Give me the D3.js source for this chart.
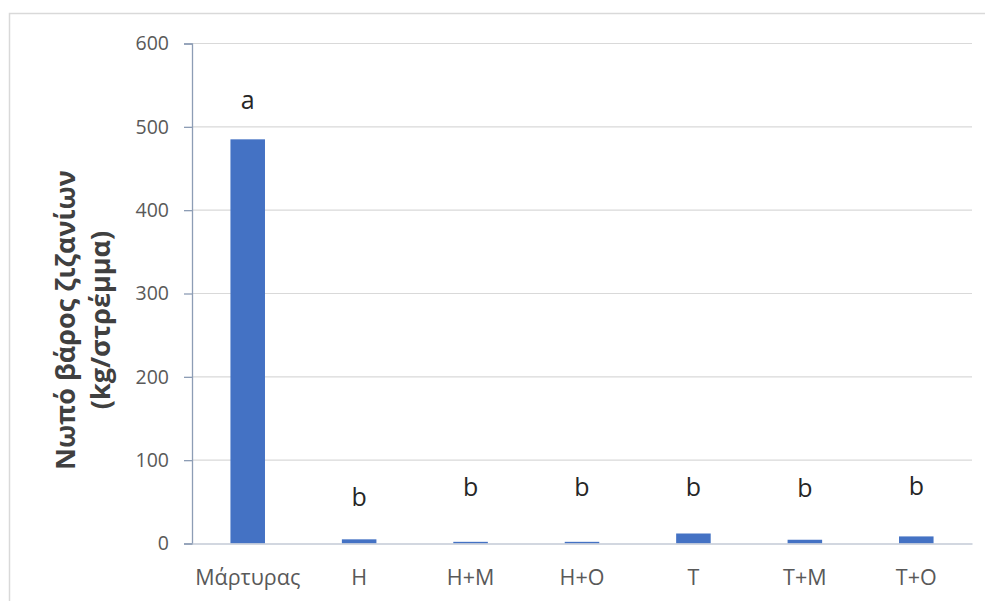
<!DOCTYPE html>
<html>
<head>
<meta charset="utf-8">
<script src="https://cdn.jsdelivr.net/npm/d3@7"></script>
<style>
  html, body { margin: 0; padding: 0; background: #fff; }
  svg { display: block; }
</style>
</head>
<body>
<svg id="chart" width="985" height="601"></svg>
<script>
// Fresh weed weight per treatment (kg/stremma)
const categories = ["Μάρτυρας", "H", "H+M", "H+O", "T", "T+M", "T+O"];
const values = [485, 5, 2, 2, 12, 4.5, 8.5];
// Significance group letters and the level (in kg/stremma) they sit at
const letters = ["a", "b", "b", "b", "b", "b", "b"];
const letterLevel = [532, 55, 67, 67, 67, 66, 69];
const yTicks = [0, 100, 200, 300, 400, 500, 600];
const yTitle = ["Νωπό βάρος ζιζανίων", "(kg/στρέμμα)"];

const svg = d3.select("#chart");
const font = "'Open Sans', 'Liberation Sans', sans-serif";

// Outer chart frame
svg.append("rect")
  .attr("x", 9.5).attr("y", 13.5)
  .attr("width", 990).attr("height", 600)
  .attr("fill", "#fff").attr("stroke", "#d9d9d9").attr("stroke-width", 1.5);

const plot = { left: 192, right: 972, top: 43.5, bottom: 543.5 };

const x = d3.scaleBand()
  .domain(categories)
  .range([plot.left, plot.right])
  .paddingInner(0.69)
  .paddingOuter(0.345);

const y = d3.scaleLinear()
  .domain([0, 600])
  .range([plot.bottom, plot.top]);

// Horizontal gridlines
svg.append("g")
  .selectAll("line")
  .data(yTicks.filter(d => d > 0))
  .join("line")
  .attr("x1", plot.left).attr("x2", plot.right)
  .attr("y1", d => y(d)).attr("y2", d => y(d))
  .attr("stroke", "#d9d9d9").attr("stroke-width", 1.2);

// Bars
svg.append("g")
  .selectAll("rect")
  .data(categories.map((c, i) => ({ c, v: values[i] })))
  .join("rect")
  .attr("x", d => x(d.c))
  .attr("width", x.bandwidth())
  .attr("y", d => y(d.v))
  .attr("height", d => y(0) - y(d.v))
  .attr("fill", "#4472c4");

// Y axis
const yAxis = svg.append("g")
  .attr("transform", `translate(${plot.left},0)`)
  .call(d3.axisLeft(y).tickValues(yTicks).tickSize(8).tickPadding(15));
yAxis.select(".domain").attr("stroke", "#8d9db5").attr("stroke-width", 1.3);
yAxis.selectAll(".tick line").attr("stroke", "#8d9db5").attr("stroke-width", 1.3);
yAxis.selectAll(".tick text")
  .attr("fill", "#595959")
  .style("font-family", font)
  .style("font-size", "19.5px");

// X axis
const xAxis = svg.append("g")
  .attr("transform", `translate(0,${plot.bottom})`)
  .call(d3.axisBottom(x).tickSize(0).tickPadding(26));
xAxis.select(".domain").attr("stroke", "#c3cad6").attr("stroke-width", 1.3);
xAxis.selectAll(".tick text")
  .attr("fill", "#595959")
  .style("font-family", font)
  .style("font-size", "21.5px");

// Group letters
svg.append("g")
  .selectAll("text")
  .data(categories.map((c, i) => ({ c, t: letters[i], l: letterLevel[i] })))
  .join("text")
  .attr("x", d => x(d.c) + x.bandwidth() / 2)
  .attr("y", d => y(d.l))
  .attr("dy", "0.35em")
  .attr("text-anchor", "middle")
  .attr("fill", "#262626")
  .style("font-family", font)
  .style("font-size", "25px")
  .text(d => d.t);

// Y axis title, two lines rotated
const title = svg.append("text")
  .attr("transform", `translate(80,320) rotate(-90)`)
  .attr("text-anchor", "middle")
  .attr("fill", "#404040")
  .style("font-family", font)
  .style("font-weight", "bold")
  .style("font-size", "27px");
title.selectAll("tspan")
  .data(yTitle)
  .join("tspan")
  .attr("x", 0)
  .attr("dy", (d, i) => i === 0 ? "-0.2em" : "1.3em")
  .text(d => d);
</script>
</body>
</html>
